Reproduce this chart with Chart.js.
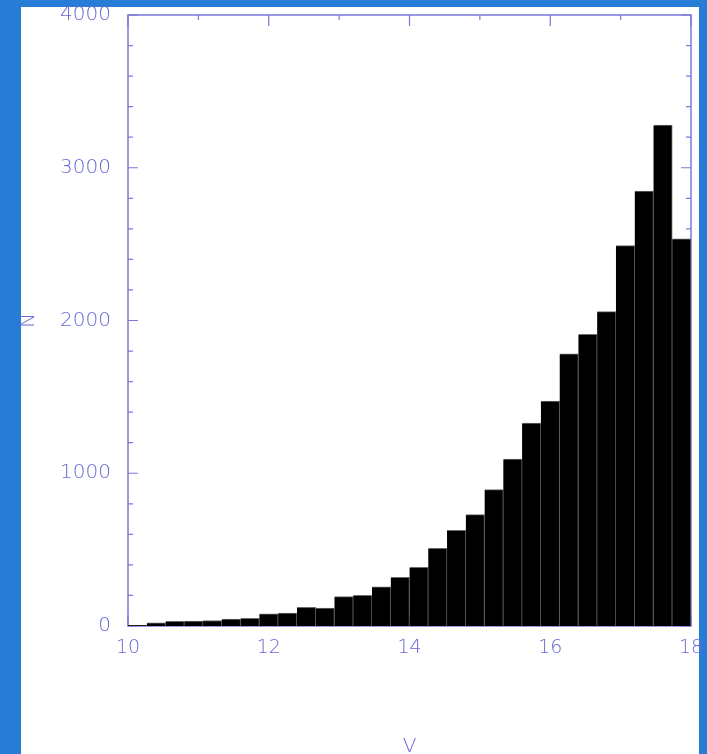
<!DOCTYPE html>
<html>
<head>
<meta charset="utf-8">
<title>V magnitude histogram</title>
<script src="https://cdn.jsdelivr.net/npm/chart.js@4/dist/chart.umd.min.js"></script>
<style>
  html, body { margin: 0; padding: 0; background: #277dd6; }
  canvas { display: block; }
</style>
</head>
<body>
<canvas id="hist" width="707" height="754"></canvas>
<script>
// Histogram of V magnitudes: 30 bins from V = 10 to V = 18
const binStart = 10;
const binWidth = 8 / 30;
const counts = [5, 20, 30, 32, 36, 46, 50, 79, 85, 122,
                118, 192, 201, 257, 319, 384, 509, 626, 729, 893,
                1093, 1328, 1473, 1781, 1910, 2058, 2490, 2848, 3280, 2534];
const binCenters = counts.map((_, i) => binStart + (i + 0.5) * binWidth);

// Axis ticks: labelled majors and the small minor marks between them
const xMajorTicks = [10, 12, 14, 16, 18];
const xMinorTicks = [11, 13, 15, 17];
const yMajorTicks = [0, 1000, 2000, 3000, 4000];
const yMinorTicks = [200, 400, 600, 800, 1200, 1400, 1600, 1800, 2200, 2400, 2600, 2800,
                     3200, 3400, 3600, 3800];

const AXIS = '#7b78d9';
const LABEL = '#6a68d5';
const BLUE = '#277dd6';
const FONT = { family: 'DejaVu Sans', size: 20, weight: 200 };
const XFONT = { family: 'DejaVu Sans', size: 19, weight: 200 };

// White page on a blue surround
const PAGE = { left: 21, top: 7, right: 699 };

const panel = {
  id: 'panel',
  beforeDraw(chart) {
    const ctx = chart.ctx;
    ctx.save();
    ctx.fillStyle = BLUE;
    ctx.fillRect(0, 0, chart.width, chart.height);
    ctx.fillStyle = '#ffffff';
    ctx.fillRect(PAGE.left, PAGE.top, PAGE.right - PAGE.left, chart.height - PAGE.top);
    ctx.restore();
  }
};

const frame = {
  id: 'frame',
  beforeDatasetsDraw(chart) {
    const { ctx, chartArea: a, scales: { x, y } } = chart;
    ctx.save();
    ctx.strokeStyle = AXIS;
    ctx.lineWidth = 1.5;
    ctx.strokeRect(a.left, a.top, a.right - a.left, a.bottom - a.top);
    ctx.lineWidth = 1.2;
    ctx.beginPath();
    const xt = (vals, len) => vals.forEach(v => {
      const px = x.getPixelForValue(v);
      ctx.moveTo(px, a.bottom); ctx.lineTo(px, a.bottom - len);
      ctx.moveTo(px, a.top); ctx.lineTo(px, a.top + len);
    });
    const yt = (vals, len) => vals.forEach(v => {
      const py = y.getPixelForValue(v);
      ctx.moveTo(a.left, py); ctx.lineTo(a.left + len, py);
      ctx.moveTo(a.right, py); ctx.lineTo(a.right - len, py);
    });
    xt(xMajorTicks, 11); xt(xMinorTicks, 5);
    yt(yMajorTicks, 10); yt(yMinorTicks, 5);
    ctx.stroke();
    ctx.restore();
  }
};

new Chart(document.getElementById('hist'), {
  type: 'bar',
  data: {
    datasets: [{
      data: binCenters.map((c, i) => ({ x: c, y: counts[i] })),
      backgroundColor: '#000000',
      borderColor: '#6a6a6a',
      borderWidth: { top: 1, right: 1, left: 0, bottom: 0 },
      borderSkipped: false,
      barPercentage: 1,
      categoryPercentage: 1
    }]
  },
  options: {
    responsive: false,
    animation: false,
    events: [],
    layout: { padding: { left: 0, right: 16, top: 15, bottom: 0 } },
    plugins: { legend: { display: false }, tooltip: { enabled: false } },
    scales: {
      x: {
        type: 'linear',
        offset: false,
        min: 10, max: 18,
        grid: { display: false, drawTicks: false },
        border: { display: false },
        ticks: {
          stepSize: 2, color: LABEL, font: XFONT, padding: 11, maxRotation: 0,
          callback: v => xMajorTicks.includes(v) ? String(v) : ''
        },
        title: { display: true, text: 'V', color: LABEL, font: FONT, padding: { top: 0, bottom: -5 } },
        afterFit(s) { s.height = 128; s.paddingLeft = 0; s.paddingRight = 0; }
      },
      y: {
        min: 0, max: 4000,
        grid: { display: false, drawTicks: false },
        border: { display: false },
        ticks: {
          stepSize: 1000, color: LABEL, font: FONT, padding: 17,
          callback: v => yMajorTicks.includes(v) ? String(v) : ''
        },
        title: { display: true, text: 'N', color: LABEL, font: FONT, padding: { top: 17, bottom: 0 } },
        afterFit(s) { s.width = 128; s.paddingTop = 0; s.paddingBottom = 0; }
      }
    }
  },
  plugins: [panel, frame]
});
</script>
</body>
</html>
